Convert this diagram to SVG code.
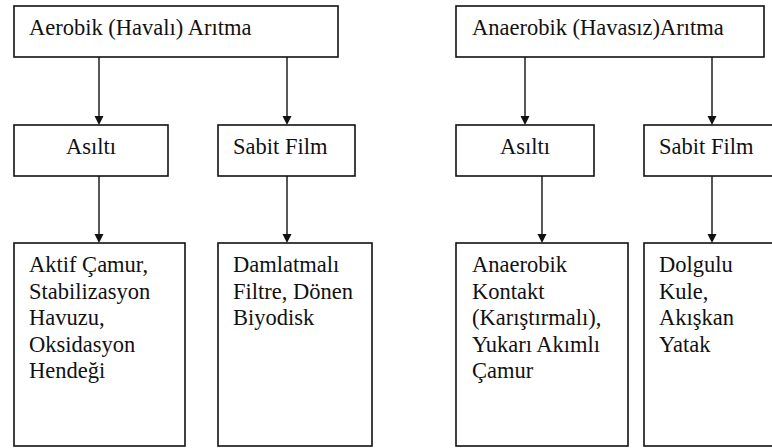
<svg xmlns="http://www.w3.org/2000/svg" width="772" height="448" viewBox="0 0 772 448">
<style>
.box{fill:#fff;stroke:#111;stroke-width:1.6}
text{font-family:'Liberation Serif',Tinos,'Times New Roman',Times,serif;font-size:22.5px;fill:#111}
.c{stroke:#111;stroke-width:1.4;fill:none}
.ah{fill:#111;stroke:none}
</style>
<rect width="772" height="448" fill="#fff"/>
<g id="connectors">
<line class="c" x1="99" y1="57" x2="99" y2="118"/>
<polygon class="ah" points="94.5,116 103.5,116 99,125"/>
<line class="c" x1="287" y1="57" x2="287" y2="118"/>
<polygon class="ah" points="282.5,116 291.5,116 287,125"/>
<line class="c" x1="99" y1="176" x2="99" y2="236"/>
<polygon class="ah" points="94.5,234 103.5,234 99,243"/>
<line class="c" x1="287" y1="176" x2="287" y2="236"/>
<polygon class="ah" points="282.5,234 291.5,234 287,243"/>
<line class="c" x1="525" y1="57" x2="525" y2="118"/>
<polygon class="ah" points="520.5,116 529.5,116 525,125"/>
<line class="c" x1="712" y1="57" x2="712" y2="118"/>
<polygon class="ah" points="707.5,116 716.5,116 712,125"/>
<line class="c" x1="542" y1="176" x2="542" y2="236"/>
<polygon class="ah" points="537.5,234 546.5,234 542,243"/>
<line class="c" x1="712" y1="176" x2="712" y2="236"/>
<polygon class="ah" points="707.5,234 716.5,234 712,243"/>
</g>
<g id="aerobik">
<rect class="box" x="14" y="6" width="324" height="51"/>
<text x="29" y="35">Aerobik (Havalı) Arıtma</text>
</g>
<g id="aerobik-asilti">
<rect class="box" x="14" y="125" width="154" height="51"/>
<text x="91" y="154" text-anchor="middle">Asıltı</text>
</g>
<g id="aerobik-sabit">
<rect class="box" x="218" y="125" width="137" height="51"/>
<text x="233" y="154">Sabit Film</text>
</g>
<g id="aerobik-asilti-list">
<rect class="box" x="14" y="243" width="171" height="203"/>
<text x="29" y="272">Aktif Çamur,</text>
<text x="29" y="298.5">Stabilizasyon</text>
<text x="29" y="325">Havuzu,</text>
<text x="29" y="351.5">Oksidasyon</text>
<text x="29" y="378">Hendeği</text>
</g>
<g id="aerobik-sabit-list">
<rect class="box" x="218" y="243" width="154" height="203"/>
<text x="233" y="272">Damlatmalı</text>
<text x="233" y="298.5">Filtre, Dönen</text>
<text x="233" y="325">Biyodisk</text>
</g>
<g id="anaerobik">
<rect class="box" x="456" y="6" width="308" height="51"/>
<text x="472" y="35">Anaerobik (Havasız)Arıtma</text>
</g>
<g id="anaerobik-asilti">
<rect class="box" x="456" y="125" width="138" height="51"/>
<text x="525" y="154" text-anchor="middle">Asıltı</text>
</g>
<g id="anaerobik-sabit">
<rect class="box" x="644" y="125" width="140" height="51"/>
<text x="659" y="154">Sabit Film</text>
</g>
<g id="anaerobik-asilti-list">
<rect class="box" x="456" y="243" width="172" height="203"/>
<text x="472" y="272">Anaerobik</text>
<text x="472" y="298.5">Kontakt</text>
<text x="472" y="325">(Karıştırmalı),</text>
<text x="472" y="351.5">Yukarı Akımlı</text>
<text x="472" y="378">Çamur</text>
</g>
<g id="anaerobik-sabit-list">
<rect class="box" x="644" y="243" width="140" height="203"/>
<text x="659" y="272">Dolgulu</text>
<text x="659" y="298.5">Kule,</text>
<text x="659" y="325">Akışkan</text>
<text x="659" y="351.5">Yatak</text>
</g>
</svg>
